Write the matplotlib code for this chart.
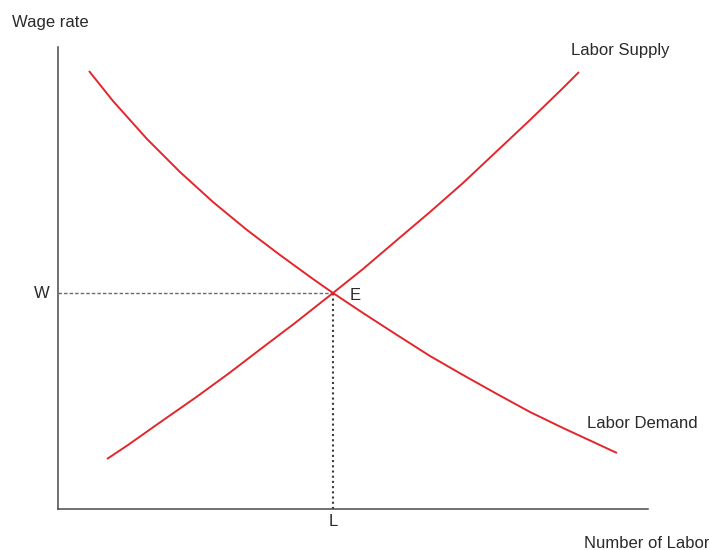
#!/usr/bin/env python3
# -*- coding: utf-8 -*-
"""Labor market: supply / demand curves meeting at equilibrium E."""
import matplotlib
matplotlib.use("Agg")
import matplotlib.pyplot as plt

# ==== data (x = number of labor, y = wage rate, arbitrary units) ====
demand_x = [31, 55, 89, 122, 155, 189, 222, 255, 275, 305, 339, 372, 405, 439, 472, 505, 559]
demand_y = [438, 408, 370, 337, 307, 279, 254, 230, 216, 196, 174, 153, 134, 115, 97, 81, 56]

supply_x = [49, 70, 104, 137, 170, 204, 237, 275, 305, 339, 372, 405, 439, 472, 505, 521]
supply_y = [50, 64, 88, 111, 135, 161, 186, 216, 240, 269, 297, 326, 358, 389, 421, 437]

eq_x, eq_y = 275, 216          # equilibrium point E
x_max, y_max = 590, 462

RED = "#e3262b"
INK = "#2a2a2a"
AXIS = "#4a4a4a"

plt.rcParams["font.family"] = ["Liberation Sans", "DejaVu Sans"]

W, H, DPI = 709, 550, 100
fig = plt.figure(figsize=(W / DPI, H / DPI), dpi=DPI)
# axes box in pixels: left spine at x=58, bottom spine at y=509, top at y=47
ax = fig.add_axes([58 / W, (H - 509) / H, x_max / W, y_max / H])
ax.set_xlim(0, x_max)
ax.set_ylim(0, y_max)

for s in ("top", "right"):
    ax.spines[s].set_visible(False)
for s in ("left", "bottom"):
    ax.spines[s].set_color(AXIS)
    ax.spines[s].set_linewidth(1.1)
ax.set_xticks([])
ax.set_yticks([])

ax.plot(demand_x, demand_y, color=RED, lw=1.4, solid_capstyle="butt",
        solid_joinstyle="round", zorder=3)
ax.plot(supply_x, supply_y, color=RED, lw=1.4, solid_capstyle="butt",
        solid_joinstyle="round", zorder=3)

# guide lines to the axes
ax.plot([0, eq_x], [eq_y, eq_y], color="#666a72", lw=1.0, ls=(0, (2.5, 1.5)), zorder=2)
ax.plot([eq_x, eq_x], [0, eq_y], color="#3c3c3c", lw=1.5, ls=(0, (1, 1.5)), zorder=2)

fs = 12
ax.annotate("W", (0, eq_y), xytext=(-8, 0), textcoords="offset pixels",
            ha="right", va="center", fontsize=fs, color=INK)
ax.annotate("E", (eq_x, eq_y), xytext=(17, -2), textcoords="offset pixels",
            ha="left", va="center", fontsize=fs, color=INK)
ax.annotate("L", (eq_x, 0), xytext=(0, -12), textcoords="offset pixels",
            ha="center", va="center", fontsize=fs, color=INK)
ax.annotate("Labor Supply", (supply_x[-1], supply_y[-1]), xytext=(-8, 21),
            textcoords="offset pixels", ha="left", va="center", fontsize=fs, color=INK)
ax.annotate("Labor Demand", (demand_x[-1], demand_y[-1]), xytext=(-30, 29),
            textcoords="offset pixels", ha="left", va="center", fontsize=fs, color=INK)

fig.text(12 / W, 1 - 22 / H, "Wage rate", ha="left", va="center", fontsize=fs, color=INK)
fig.text(709 / W, 1 - 543 / H, "Number of Labor", ha="right", va="center",
         fontsize=fs, color=INK)

fig.savefig("out.png", dpi=DPI, facecolor="white")
